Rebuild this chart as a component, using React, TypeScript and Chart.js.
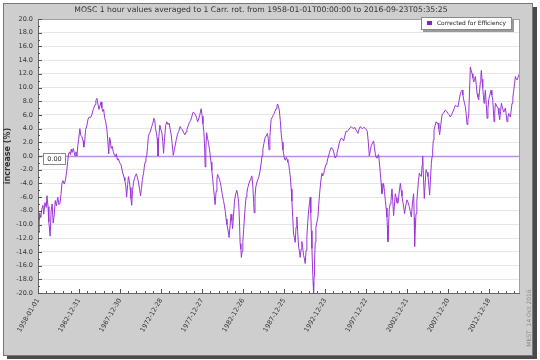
import { useEffect, useRef } from "react";
import { Chart, registerables } from "chart.js";

Chart.register(...registerables);

const title =
  "MOSC 1 hour values averaged to 1 Carr. rot. from 1958-01-01T00:00:00 to 2016-09-23T05:35:25";
const seriesName = "Corrected for Efficiency";
const yAxisTitle = "increase (%)";
const stamp = "MEST  14 Oct 2016";
const zeroLabel = "0.00";

const tickLabels = [
  "1958-01-01",
  "1962-12-31",
  "1967-12-30",
  "1972-12-28",
  "1977-12-27",
  "1982-12-26",
  "1987-12-25",
  "1992-12-23",
  "1997-12-22",
  "2002-12-21",
  "2007-12-20",
  "2012-12-18",
];
const tickSpacingDays = 1825;
const spanYears = 58.73; // 1958-01-01 .. 2016-09-23

const yearsSince1958 = [
  0.0, 0.1, 0.2, 0.35, 0.45, 0.6, 0.7, 0.85, 1.0, 1.1, 1.22, 1.32, 1.48, 1.6, 1.72, 1.85, 1.98,
  2.1, 2.25, 2.4, 2.55, 2.68, 2.8, 2.92, 3.05, 3.2, 3.35, 3.5, 3.62, 3.72, 3.85, 3.95, 4.05, 4.15,
  4.3, 4.42, 4.52, 4.62, 4.75, 4.85, 4.95, 5.1, 5.22, 5.35, 5.5, 5.58, 5.68, 5.8, 5.95, 6.1, 6.25,
  6.4, 6.55, 6.68, 6.8, 6.95, 7.05, 7.18, 7.3, 7.42, 7.55, 7.68, 7.78, 7.9, 8.0, 8.12, 8.25, 8.4,
  8.52, 8.62, 8.72, 8.82, 8.92, 9.05, 9.18, 9.3, 9.42, 9.55, 9.68, 9.8, 9.95, 10.1, 10.22, 10.35,
  10.48, 10.58, 10.7, 10.8, 10.92, 11.02, 11.12, 11.22, 11.32, 11.42, 11.52, 11.63, 11.75, 11.85,
  11.98, 12.1, 12.24, 12.38, 12.5, 12.62, 12.72, 12.85, 12.95, 13.05, 13.15, 13.25, 13.35, 13.45,
  13.58, 13.7, 13.86, 14.0, 14.12, 14.22, 14.32, 14.42, 14.52, 14.62, 14.72, 14.85, 14.98, 15.08,
  15.2, 15.3, 15.42, 15.55, 15.68, 15.85, 15.98, 16.1, 16.22, 16.35, 16.48, 16.6, 16.72, 16.85,
  17.0, 17.15, 17.32, 17.45, 17.6, 17.75, 17.9, 18.05, 18.15, 18.3, 18.45, 18.6, 18.75, 18.9,
  19.05, 19.2, 19.32, 19.45, 19.58, 19.72, 19.88, 20.0, 20.1, 20.2, 20.28, 20.37, 20.45, 20.55,
  20.65, 20.77, 20.9, 20.98, 21.08, 21.18, 21.28, 21.38, 21.48, 21.58, 21.7, 21.8, 21.88, 22.0,
  22.1, 22.22, 22.32, 22.45, 22.6, 22.72, 22.82, 22.92, 23.02, 23.15, 23.28, 23.4, 23.52, 23.62,
  23.7, 23.82, 23.94, 24.08, 24.22, 24.35, 24.45, 24.55, 24.63, 24.72, 24.78, 24.88, 24.96, 25.06,
  25.16, 25.26, 25.35, 25.46, 25.57, 25.7, 25.85, 25.95, 26.06, 26.18, 26.28, 26.34, 26.44, 26.54,
  26.68, 26.8, 26.92, 27.05, 27.2, 27.3, 27.4, 27.52, 27.65, 27.8, 27.95, 28.05, 28.15, 28.25,
  28.4, 28.52, 28.65, 28.78, 28.9, 29.0, 29.12, 29.2, 29.3, 29.4, 29.52, 29.63, 29.75, 29.85,
  29.95, 30.05, 30.15, 30.25, 30.35, 30.45, 30.55, 30.65, 30.75, 30.85, 30.94, 31.04, 31.14, 31.24,
  31.34, 31.44, 31.54, 31.64, 31.75, 31.85, 31.95, 32.05, 32.15, 32.25, 32.36, 32.46, 32.56, 32.66,
  32.76, 32.86, 32.97, 33.08, 33.17, 33.24, 33.3, 33.38, 33.45, 33.52, 33.58, 33.64, 33.7, 33.78,
  33.86, 33.98, 34.11, 34.2, 34.31, 34.45, 34.59, 34.7, 34.8, 34.9, 35.0, 35.1, 35.2, 35.3, 35.41,
  35.51, 35.61, 35.71, 35.81, 35.92, 36.02, 36.12, 36.22, 36.32, 36.42, 36.55, 36.71, 36.83, 36.95,
  37.1, 37.24, 37.38, 37.52, 37.68, 37.85, 38.0, 38.17, 38.3, 38.46, 38.6, 38.74, 38.86, 38.98,
  39.12, 39.27, 39.4, 39.55, 39.7, 39.88, 40.0, 40.12, 40.25, 40.37, 40.5, 40.61, 40.75, 40.89,
  41.0, 41.1, 41.2, 41.3, 41.4, 41.5, 41.6, 41.71, 41.81, 41.91, 42.01, 42.11, 42.22, 42.32, 42.42,
  42.52, 42.58, 42.64, 42.72, 42.8, 42.9, 43.01, 43.13, 43.23, 43.33, 43.44, 43.54, 43.64, 43.74,
  43.86, 44.0, 44.15, 44.25, 44.35, 44.5, 44.67, 44.8, 44.96, 45.1, 45.24, 45.36, 45.49, 45.62,
  45.77, 45.84, 45.89, 45.96, 46.06, 46.16, 46.26, 46.36, 46.46, 46.58, 46.71, 46.8, 46.87, 46.95,
  47.07, 47.18, 47.28, 47.4, 47.52, 47.62, 47.72, 47.82, 47.93, 48.01, 48.09, 48.17, 48.25, 48.38,
  48.5, 48.62, 48.74, 48.84, 48.94, 49.08, 49.23, 49.43, 49.63, 49.8, 49.96, 50.1, 50.24, 50.38,
  50.53, 50.7, 50.85, 51.0, 51.18, 51.32, 51.46, 51.56, 51.67, 51.77, 51.87, 51.97, 52.07, 52.18,
  52.28, 52.38, 52.48, 52.58, 52.68, 52.78, 52.89, 52.99, 53.09, 53.19, 53.29, 53.4, 53.5, 53.6,
  53.7, 53.8, 53.9, 53.96, 54.02, 54.1, 54.19, 54.27, 54.35, 54.43, 54.51, 54.62, 54.72, 54.82,
  54.92, 55.06, 55.2, 55.3, 55.41, 55.49, 55.57, 55.65, 55.73, 55.9, 56.06, 56.16, 56.26, 56.36,
  56.46, 56.6, 56.75, 56.85, 56.95, 57.05, 57.15, 57.25, 57.36, 57.46, 57.56, 57.66, 57.76, 57.86,
  57.97, 58.07, 58.17, 58.27, 58.37, 58.5, 58.66, 58.73,
];

const increase = [
  -10.3, -11.2, -8.3, -9.0, -7.8, -7.2, -8.5, -6.8, -7.5, -5.8, -7.4, -9.6, -11.7, -8.0, -7.0, -9.8,
  -8.6, -6.5, -7.3, -6.0, -7.1, -6.9, -5.6, -4.0, -3.6, -4.1, -3.5, -2.2, -0.8, 0.3, 0.6, 0.2, 1.0,
  0.5, 1.1, 0.5, 0.0, 0.6, 0.0, 1.5, 2.4, 4.0, 3.0, 2.8, 2.2, 1.3, 2.0, 3.9, 4.4, 5.4, 5.7, 5.6,
  6.0, 6.6, 7.0, 7.5, 8.1, 8.4, 7.6, 6.8, 7.3, 7.9, 7.0, 6.5, 6.8, 5.6, 5.0, 3.8, 2.0, 0.3, 2.7,
  2.2, 1.1, 1.4, 0.6, 0.2, -0.1, 0.3, -0.6, -0.4, -1.0, -1.2, -1.9, -2.6, -3.1, -3.6, -4.4, -6.0,
  -4.2, -3.0, -3.6, -4.6, -6.2, -7.2, -5.0, -4.0, -3.3, -2.9, -2.6, -3.1, -3.8, -4.9, -5.8, -4.6,
  -3.4, -2.6, -1.6, -0.9, -0.3, 0.1, 1.4, 2.9, 3.3, 3.6, 4.3, 4.8, 5.5, 5.2, 4.0, 3.4, 2.6, 0.0,
  2.8, 4.5, 3.8, 3.5, 2.1, 0.4, 2.6, 4.4, 5.0, 4.6, 4.8, 3.9, 3.2, 1.8, 0.1, 0.8, 1.6, 2.4, 3.2,
  3.6, 4.3, 4.0, 3.8, 3.4, 3.1, 3.5, 3.9, 4.4, 4.9, 5.2, 5.8, 6.4, 6.3, 6.0, 5.6, 5.0, 5.4, 6.0,
  6.9, 5.8, 4.7, 3.6, 1.9, -1.6, 1.0, 3.4, 2.6, 2.0, 0.9, 0.2, -0.9, -2.1, -3.3, -4.6, -5.8, -7.1,
  -5.2, -3.4, -2.7, -3.0, -3.4, -3.9, -4.6, -5.6, -6.5, -7.3, -8.1, -9.2, -10.0, -10.8, -11.9,
  -10.2, -8.5, -9.4, -10.6, -8.8, -6.6, -5.6, -5.0, -5.8, -6.8, -9.5, -12.8, -13.6, -14.8, -13.9,
  -12.5, -10.7, -8.9, -7.2, -6.0, -5.3, -4.6, -4.0, -3.5, -3.2, -2.9, -4.5, -6.8, -8.3, -6.0, -4.5,
  -3.8, -3.4, -3.0, -2.2, -1.0, 0.1, 1.0, 1.8, 2.6, 2.9, 3.3, 2.6, 0.9, 2.8, 5.3, 5.6, 5.9, 6.2,
  6.6, 6.9, 7.4, 7.6, 7.2, 6.7, 5.2, 3.3, 2.0, 0.9, 0.2, -0.5, -0.6, -0.2, -0.5, -0.9, -1.2, -2.1,
  -3.1, -4.8, -6.6, -9.0, -11.4, -11.9, -12.6, -10.4, -8.9, -11.0, -13.2, -13.9, -14.8, -13.6,
  -12.5, -13.4, -14.5, -15.0, -15.7, -13.8, -11.8, -9.8, -8.0, -6.9, -6.0, -8.3, -10.9, -13.5,
  -16.2, -18.4, -20.0, -17.6, -15.2, -12.6, -10.4, -9.7, -8.9, -7.2, -5.5, -3.8, -2.5, -2.9, -2.7,
  -2.0, -1.6, -1.2, -1.0, -0.4, 0.0, 0.5, 0.9, 1.2, 1.1, 1.0, 0.6, 0.1, -0.3, 0.0, 0.4, 1.0, 1.9,
  2.3, 2.6, 2.5, 2.2, 2.9, 3.6, 3.6, 3.8, 4.1, 4.3, 4.1, 4.0, 4.2, 3.8, 3.6, 3.3, 3.9, 4.3, 4.1,
  4.0, 4.2, 4.0, 3.9, 3.6, 2.0, 0.0, 0.8, 1.5, 1.9, 2.2, 1.2, 0.3, -0.2, -0.3, 0.1, 0.2, -1.0, -2.5,
  -4.0, -5.5, -4.8, -4.0, -5.2, -6.5, -7.6, -8.9, -10.6, -12.5, -10.0, -7.8, -7.0, -6.5, -4.8,
  -6.6, -8.7, -7.0, -5.5, -6.1, -6.8, -6.9, -5.4, -4.0, -5.0, -5.9, -7.0, -8.4, -7.3, -6.4, -6.8,
  -7.4, -8.1, -8.9, -7.0, -5.5, -9.0, -13.2, -10.9, -8.4, -6.6, -5.0, -3.6, -2.5, -2.8, -3.0, -1.4,
  0.0, -2.6, -6.2, -3.9, -2.0, -2.4, -3.0, -4.3, -5.7, -3.4, -1.1, -0.1, 0.9, 2.3, 3.8, 4.4, 5.0,
  4.8, 4.8, 4.0, 3.1, 4.6, 6.0, 6.3, 6.7, 6.5, 6.2, 6.0, 5.7, 6.0, 6.4, 6.9, 7.4, 7.3, 7.2, 8.2,
  9.1, 9.4, 9.6, 8.9, 8.2, 7.7, 7.2, 6.0, 4.6, 5.3, 6.0, 9.5, 13.0, 12.5, 12.0, 11.4, 10.8, 11.2,
  11.6, 10.4, 9.1, 8.6, 8.2, 9.5, 10.8, 11.6, 12.5, 11.2, 10.0, 8.8, 7.7, 8.6, 9.6, 7.5, 5.5, 6.9,
  8.2, 8.9, 9.6, 8.9, 8.2, 6.6, 5.0, 6.4, 7.7, 7.3, 7.0, 6.1, 5.3, 6.5, 7.7, 7.0, 6.4, 6.7, 7.0,
  6.0, 5.0, 5.6, 6.2, 5.9, 5.7, 6.7, 7.7, 8.6, 9.6, 10.6, 11.6, 11.3, 11.1, 11.5, 12.0, 11.8,
];

const yMin = -20;
const yMax = 20;
const yStep = 2;

const FONT = "'DejaVu Sans', sans-serif";
const LINE_COLOR = "#9b35d8";

const decor = {
  id: "decor",
  beforeDraw(chart: any) {
    const { ctx, chartArea: a } = chart;
    ctx.save();
    ctx.fillStyle = "#ffffff";
    ctx.fillRect(0, 0, 540, 360);
    ctx.fillStyle = "#4a4a4a";
    ctx.fillRect(7, 7, 530, 352);
    ctx.fillStyle = "#cecece";
    ctx.fillRect(3, 3, 530, 353);
    ctx.strokeStyle = "#777777";
    ctx.lineWidth = 1;
    ctx.strokeRect(3.5, 3.5, 529, 352);
    ctx.fillStyle = "#ffffff";
    ctx.fillRect(a.left, a.top, a.right - a.left, a.bottom - a.top);
    ctx.restore();
  },
  beforeDatasetsDraw(chart: any) {
    const { ctx, chartArea: a, scales } = chart;
    const y0 = Math.round(scales.y.getPixelForValue(0)) + 0.5;
    ctx.save();
    ctx.strokeStyle = "#bb8ee0";
    ctx.lineWidth = 1.5;
    ctx.beginPath();
    ctx.moveTo(a.left, y0);
    ctx.lineTo(a.right, y0);
    ctx.stroke();
    ctx.restore();
  },
  afterDraw(chart: any) {
    const { ctx, chartArea: a, scales } = chart;
    ctx.save();
    // plot outline
    ctx.strokeStyle = "#a0a0a0";
    ctx.lineWidth = 1;
    ctx.strokeRect(a.left + 0.5, a.top + 0.5, a.right - a.left - 1, a.bottom - a.top);
    ctx.strokeStyle = "#666666";
    ctx.beginPath();
    ctx.moveTo(a.left + 0.5, a.top);
    ctx.lineTo(a.left + 0.5, a.bottom + 0.5);
    ctx.lineTo(a.right, a.bottom + 0.5);
    ctx.stroke();

    // inward ticks on x axis
    ctx.strokeStyle = "#555555";
    ctx.beginPath();
    for (let k = 0; k <= Math.floor(spanYears); k++) {
      const x = Math.round(scales.x.getPixelForValue(k)) + 0.5;
      ctx.moveTo(x, a.bottom);
      ctx.lineTo(x, a.bottom - 2);
    }
    tickLabels.forEach((_, i) => {
      const x = Math.round(scales.x.getPixelForValue((i * tickSpacingDays) / 365.25)) + 0.5;
      ctx.moveTo(x, a.bottom);
      ctx.lineTo(x, a.bottom - 4);
    });
    // inward ticks on y axis
    for (let v = yMin; v <= yMax; v += 1) {
      const y = Math.round(scales.y.getPixelForValue(v)) + 0.5;
      ctx.moveTo(a.left, y);
      ctx.lineTo(a.left + (v % 2 === 0 ? 4 : 2), y);
    }
    ctx.stroke();

    // zero value label
    const y0 = scales.y.getPixelForValue(0);
    ctx.fillStyle = "#ffffff";
    ctx.fillRect(43, y0 - 3, 23, 11);
    ctx.strokeStyle = "#8a8a8a";
    ctx.strokeRect(43.5, Math.round(y0 - 3) + 0.5, 22, 11);
    ctx.fillStyle = "#333333";
    ctx.font = `6.5px ${FONT}`;
    ctx.textAlign = "center";
    ctx.textBaseline = "middle";
    ctx.fillText(zeroLabel, 54.5, y0 + 3);

    // title
    ctx.fillStyle = "#333333";
    ctx.font = `7.7px ${FONT}`;
    ctx.textAlign = "center";
    ctx.textBaseline = "middle";
    ctx.fillText(title, 261, 10);

    // legend
    ctx.fillStyle = "#9a9a9a";
    ctx.fillRect(423, 19, 91, 13);
    ctx.fillStyle = "#ffffff";
    ctx.fillRect(421, 17, 91, 13);
    ctx.strokeStyle = "#8a8a8a";
    ctx.strokeRect(421.5, 17.5, 90, 12);
    ctx.fillStyle = "#8a1fd0";
    ctx.fillRect(427, 21, 5, 4);
    ctx.fillStyle = "#222222";
    ctx.font = `5.9px ${FONT}`;
    ctx.textAlign = "left";
    ctx.textBaseline = "middle";
    ctx.fillText(seriesName, 437, 23.5);

    // y axis title
    ctx.save();
    ctx.translate(8, (a.top + a.bottom) / 2);
    ctx.rotate(-Math.PI / 2);
    ctx.fillStyle = "#333333";
    ctx.font = `bold 8px ${FONT}`;
    ctx.textAlign = "center";
    ctx.textBaseline = "middle";
    ctx.fillText(yAxisTitle, 0, 0);
    ctx.restore();

    // stamp
    ctx.save();
    ctx.translate(529, 318);
    ctx.rotate(-Math.PI / 2);
    ctx.fillStyle = "#8a8a8a";
    ctx.font = `6px ${FONT}`;
    ctx.textAlign = "center";
    ctx.textBaseline = "middle";
    ctx.fillText(stamp, 0, 0);
    ctx.restore();

    ctx.restore();
  },
};

export default function App() {
  const ref = useRef<HTMLCanvasElement | null>(null);

  useEffect(() => {
    if (!ref.current) return;
    const points = yearsSince1958.map((x, i) => ({ x, y: increase[i] }));
    const chart = new Chart(ref.current, {
      type: "line",
      data: {
        datasets: [
          {
            label: seriesName,
            data: points,
            borderColor: LINE_COLOR,
            backgroundColor: LINE_COLOR,
            borderWidth: 1,
            pointRadius: 0,
            tension: 0,
            fill: false,
          },
        ],
      },
      options: {
        animation: false,
        responsive: false,
        devicePixelRatio: 1,
        layout: { padding: { left: 0, top: 19, right: 20, bottom: 0 } },
        plugins: {
          legend: { display: false },
          title: { display: false },
          tooltip: { enabled: false },
        },
        scales: {
          x: {
            type: "linear",
            min: 0,
            max: spanYears,
            afterBuildTicks: (s: any) => {
              s.ticks = tickLabels.map((_, i) => ({ value: (i * tickSpacingDays) / 365.25 }));
            },
            afterFit: (s: any) => {
              s.height = 67;
            },
            grid: { drawOnChartArea: false, drawTicks: false },
            border: { display: false },
            ticks: {
              autoSkip: false,
              minRotation: 60,
              maxRotation: 60,
              padding: 4,
              color: "#333333",
              font: { family: FONT, size: 6.5 },
              callback: (_v: any, i: number) => tickLabels[i] ?? "",
            },
          },
          y: {
            min: yMin,
            max: yMax,
            afterFit: (s: any) => {
              s.width = 38;
            },
            grid: { color: "#e6e6e6", drawTicks: false },
            border: { display: false },
            ticks: {
              stepSize: yStep,
              padding: 5,
              color: "#333333",
              font: { family: FONT, size: 6.5 },
              callback: (v: any) => Number(v).toFixed(1),
            },
          },
        },
      },
      plugins: [decor],
    });
    return () => chart.destroy();
  }, []);

  return (
    <div style={{ position: "fixed", left: 0, top: 0, width: 540, height: 360 }}>
      <canvas ref={ref} width={540} height={360} style={{ display: "block", width: 540, height: 360 }} />
    </div>
  );
}
